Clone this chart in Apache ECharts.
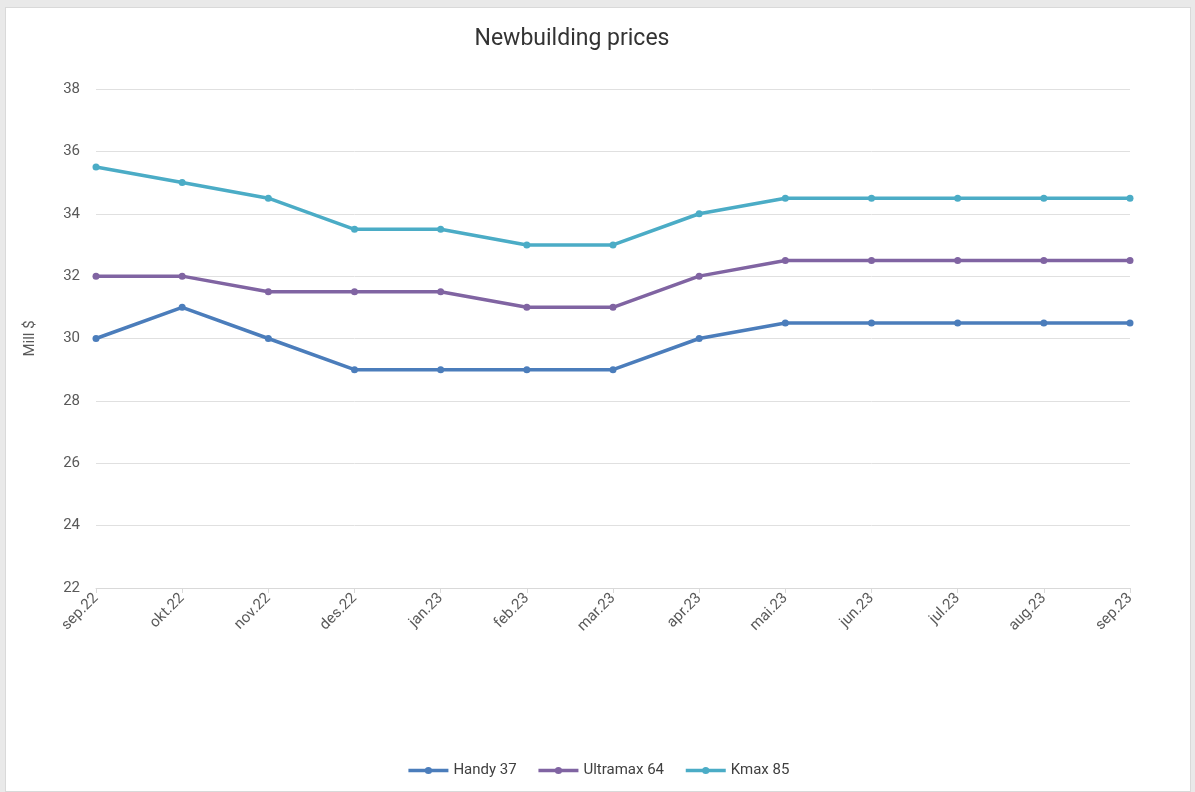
<!DOCTYPE html>
<html>
<head>
<meta charset="utf-8">
<script src="https://cdn.jsdelivr.net/npm/echarts@6/dist/echarts.min.js"></script>
<style>
    html, body { margin: 0; padding: 0; background: #e9e9e9; overflow: hidden; }
    #chart {
        position: absolute; left: 5px; top: 7px; width: 1186px; height: 785px;
        background: #ffffff; border: 1px solid #d9d9d9; box-sizing: border-box;
    }
</style>
</head>
<body>
<div id="chart"></div>
<script>
var months = ['sep.22', 'okt.22', 'nov.22', 'des.22', 'jan.23', 'feb.23', 'mar.23',
    'apr.23', 'mai.23', 'jun.23', 'jul.23', 'aug.23', 'sep.23'];
var handy37 = [30, 31, 30, 29, 29, 29, 29, 30, 30.5, 30.5, 30.5, 30.5, 30.5];
var ultramax64 = [32, 32, 31.5, 31.5, 31.5, 31, 31, 32, 32.5, 32.5, 32.5, 32.5, 32.5];
var kmax85 = [35.5, 35, 34.5, 33.5, 33.5, 33, 33, 34, 34.5, 34.5, 34.5, 34.5, 34.5];

var lineChart = echarts.init(document.getElementById('chart'));

function makeSeries(name, data, color) {
    return {
        name: name,
        type: 'line',
        data: data,
        symbol: 'circle',
        symbolSize: 7,
        itemStyle: {color: color},
        lineStyle: {color: color, width: 3.5},
        emphasis: {disabled: true}
    };
}

var option = {
    animation: false,
    textStyle: {fontFamily: 'Roboto, "Liberation Sans", sans-serif'},
    title: {
        text: 'Newbuilding prices',
        left: 561,
        top: 15,
        textAlign: 'center',
        textStyle: {fontSize: 23, fontWeight: 'normal', color: '#333333'}
    },
    legend: {
        bottom: 8,
        left: 'center',
        itemWidth: 40,
        itemHeight: 9,
        itemGap: 20,
        lineStyle: {width: 3.5},
        textStyle: {fontSize: 15, color: '#404040'},
        data: ['Handy 37', 'Ultramax 64', 'Kmax 85']
    },
    grid: {left: 90, right: 60, top: 81, bottom: 203},
    xAxis: {
        type: 'category',
        data: months,
        boundaryGap: false,
        axisLine: {lineStyle: {color: '#d9d9d9'}},
        axisTick: {show: true, length: 5, lineStyle: {color: '#d9d9d9'}},
        axisLabel: {rotate: 45, fontSize: 15, color: '#595959', margin: 8}
    },
    yAxis: {
        type: 'value',
        min: 22,
        max: 38,
        interval: 2,
        name: 'Mill $',
        nameLocation: 'middle',
        nameGap: 58,
        nameTextStyle: {fontSize: 15, color: '#595959'},
        axisLine: {show: false},
        axisTick: {show: false},
        axisLabel: {fontSize: 15, color: '#595959', margin: 16},
        splitLine: {lineStyle: {color: '#e0e0e0'}}
    },
    series: [
        makeSeries('Handy 37', handy37, '#4b7dbb'),
        makeSeries('Ultramax 64', ultramax64, '#8064a2'),
        makeSeries('Kmax 85', kmax85, '#4bacc6')
    ]
};
lineChart.setOption(option);
</script>
</body>
</html>
